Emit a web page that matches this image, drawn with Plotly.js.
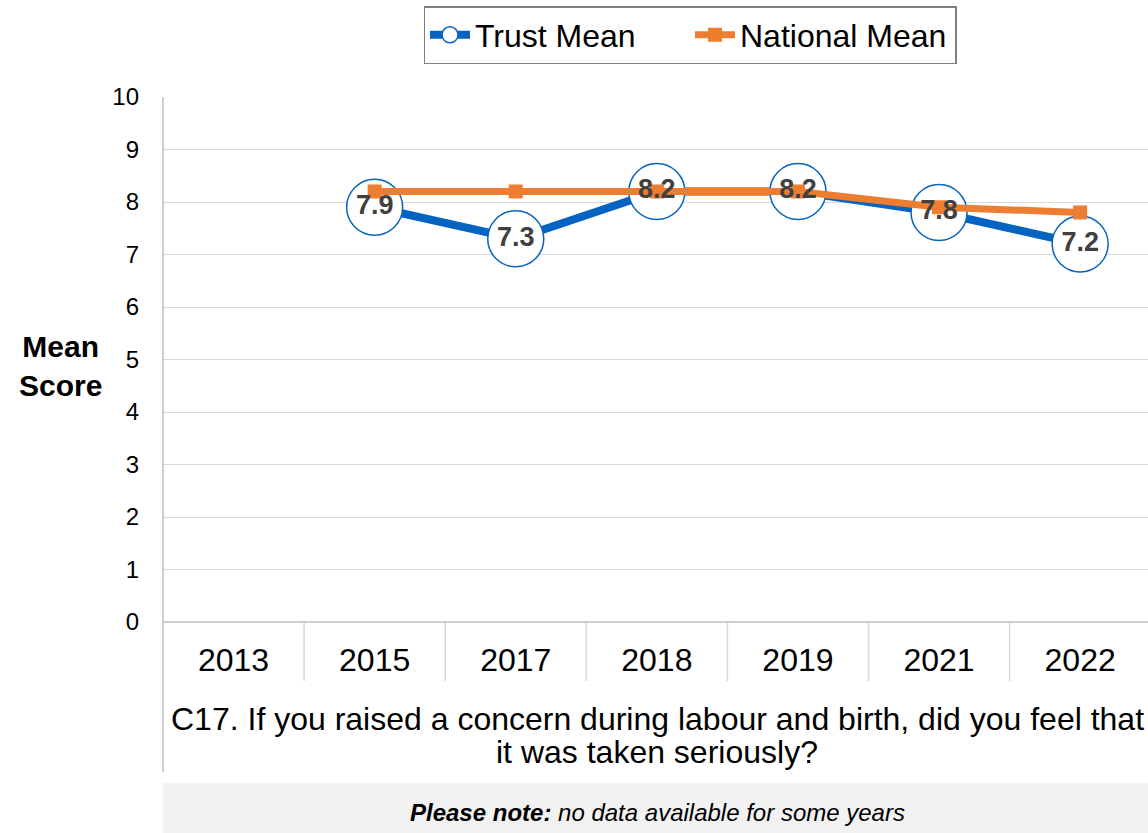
<!DOCTYPE html>
<html><head><meta charset="utf-8">
<script src="https://cdn.plot.ly/plotly-3.0.1.min.js"></script>
<style>html,body{margin:0;padding:0;background:#fff;}#chart{width:1148px;height:833px;}</style>
</head><body><div id="chart"></div>
<script>
const years = ["2013","2015","2017","2018","2019","2021","2022"];
const trustMean = [null, 7.9, 7.3, 8.2, 8.2, 7.8, 7.2];
const nationalMean = [null, 8.2, 8.2, 8.2, 8.2, 7.9, 7.8];
const yTicks = [0,1,2,3,4,5,6,7,8,9,10];
const questionLines = ["C17. If you raised a concern during labour and birth, did you feel that", "it was taken seriously?"];
const noteText = "<b>Please note:</b> no data available for some years";

const W = 1148, H = 833, mL = 163, mR = 0, mT = 97, mB = 211;
const plotH = H - mT - mB;
const py = p => (H - mB - p) / plotH;       // pixel y -> paper y
const px = p => (p - mL) / (W - mL - mR);   // pixel x -> paper x
const FONT = "Liberation Sans, Arial, sans-serif";

const traces = [
  {x: years, y: trustMean, name: "Trust Mean", type: "scatter", mode: "lines+markers",
   line: {color: "#0563C1", width: 8},
   marker: {symbol: "circle", size: 56, color: "#ffffff", line: {color: "#0563C1", width: 1.5}},
   connectgaps: false, cliponaxis: false},
  {x: years, y: nationalMean, name: "National Mean", type: "scatter", mode: "lines+markers",
   line: {color: "#ED7D31", width: 7},
   marker: {symbol: "square", size: 14, color: "#ED7D31"}, cliponaxis: false},
  {x: years, y: trustMean, type: "scatter", mode: "text", showlegend: false,
   text: trustMean.map(v => v == null ? "" : "<b>" + v.toFixed(1) + "</b>"),
   textposition: "middle center", textfont: {family: FONT, size: 27, color: "#404040"},
   cliponaxis: false, hoverinfo: "skip"}
];

const shapes = [];
// category dividers
for (let i = 1; i < years.length; i++) {
  shapes.push({type: "line", xref: "x", yref: "paper", x0: i - 0.5, x1: i - 0.5,
    y0: 0, y1: py(681), line: {color: "#d9d9d9", width: 1.5}});
}
// left axis extension
shapes.push({type: "line", xref: "paper", yref: "paper", x0: 0, x1: 0, y0: 1, y1: py(772),
  line: {color: "#bfbfbf", width: 1.5}});
// bottom axis line
shapes.push({type: "line", xref: "paper", yref: "paper", x0: 0, x1: 1, y0: 0, y1: 0,
  line: {color: "#bfbfbf", width: 1.5}});
// note box
shapes.push({type: "rect", xref: "paper", yref: "paper", x0: 0, x1: 1, y0: py(783), y1: py(833),
  fillcolor: "#f2f2f2", line: {width: 0}, layer: "below"});

const questionY = [719, 752];
const annotations = [
  {text: "<b>Mean<br>Score</b>", xref: "paper", yref: "paper", x: px(60), y: py(366),
   xanchor: "center", yanchor: "middle", showarrow: false,
   font: {family: FONT, size: 30, color: "#000000"}},
  {text: "<i>" + noteText + "</i>", xref: "paper", yref: "paper", x: px(657), y: py(812),
   xanchor: "center", yanchor: "middle", showarrow: false,
   font: {family: FONT, size: 24, color: "#000000"}}
];
questionLines.forEach((t, i) => annotations.push({
  text: t, xref: "paper", yref: "paper", x: px(657), y: py(questionY[i]),
  xanchor: "center", yanchor: "middle", showarrow: false,
  font: {family: FONT, size: 32, color: "#000000"}}));

const layout = {
  width: W, height: H,
  margin: {l: mL, r: mR, t: mT, b: mB, pad: 0},
  paper_bgcolor: "#ffffff", plot_bgcolor: "#ffffff",
  font: {family: FONT, color: "#000000"},
  showlegend: true,
  legend: {orientation: "h", x: px(690), xanchor: "center", y: py(6), yanchor: "top",
    bordercolor: "#7f7f7f", borderwidth: 1.5, bgcolor: "#ffffff",
    font: {family: FONT, size: 32, color: "#000000"}, itemwidth: 40,
    entrywidth: 210, entrywidthmode: "pixels", tracegroupgap: 0},
  xaxis: {type: "category", categoryorder: "array", categoryarray: years,
    range: [-0.5, -0.5 + (W - mL - mR) / 141.1],
    showgrid: false, zeroline: false, showline: false, ticks: "",
    tickfont: {family: FONT, size: 32, color: "#000000"}, ticklabelstandoff: 16, fixedrange: true},
  yaxis: {range: [0, 10], tickvals: yTicks, ticktext: yTicks.map(String),
    showgrid: true, gridcolor: "#d9d9d9", gridwidth: 1, zeroline: false, showline: false,
    ticks: "", ticklabelstandoff: 23,
    tickfont: {family: FONT, size: 24, color: "#000000"}, fixedrange: true},
  shapes: shapes,
  annotations: annotations
};

Plotly.newPlot("chart", traces, layout, {displayModeBar: false, staticPlot: true});
</script></body></html>
